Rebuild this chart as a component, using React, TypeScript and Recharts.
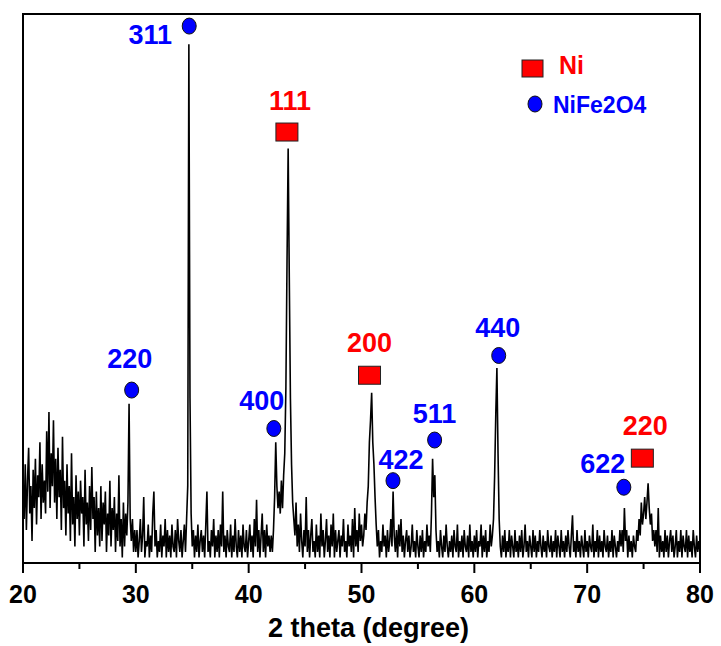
import React from 'react';
import { ComposedChart, Line, Scatter, XAxis, YAxis, ReferenceArea } from 'recharts';

// XRD scan, 2theta from 20 to 80 deg in 0.1 deg steps (arbitrary intensity units)
const ANGLE_START = 20;
const ANGLE_STEP = 0.1;
const intensities = [
  12, 8, 18, 6, 15, 21, 9, 14, 4, 17,
  10, 19, 7, 16, 12, 22, 8, 18, 11, 15,
  9, 24, 13, 27.5, 10, 20, 14, 26, 11, 19,
  8, 21, 12, 17, 6, 23, 10, 15, 5, 18,
  9, 14, 4, 20, 7, 12, 3, 16, 8, 13,
  5, 15, 9, 12, 3, 17, 7, 11, 4, 14,
  6, 17.5, 8, 12, 2, 13, 5, 10, 3, 14,
  4, 11, 7, 13, 2, 9, 5, 15, 3, 10,
  6, 12, 2, 9, 4, 16, 3, 8, 1, 11,
  3, 9, 5, 11, 29, 8, 4, 8, 2, 6,
  2, 6, 1, 4, 8, 2, 5, 12, 1, 4,
  3, 7, 1, 5, 2, 9, 13, 3, 6, 1,
  4, 2, 7, 1, 5, 3, 8, 1, 6, 2,
  5, 1, 7, 3, 2, 6, 1, 8, 4, 2,
  6, 1, 4, 7, 2, 8, 14, 94.5, 30, 9,
  3, 6, 1, 5, 2, 7, 1, 4, 6, 2,
  5, 1, 7, 13, 2, 4, 1, 6, 3, 8,
  1, 5, 2, 6, 1, 7, 3, 13, 2, 5,
  1, 6, 3, 2, 7, 1, 5, 2, 8, 3,
  1, 6, 2, 5, 1, 7, 3, 2, 6, 1,
  4, 7, 2, 5, 1, 8, 3, 11.5, 2, 6,
  1, 5, 9, 2, 6, 1, 7, 3, 5, 2,
  5, 2, 6, 12, 22, 14, 10, 13, 9, 15,
  10, 16, 20, 32, 55, 75.5, 52, 30, 18, 11,
  8, 5, 11, 3, 7, 2, 9, 4, 1, 6,
  3, 12, 2, 6, 1, 5, 8, 2, 4, 1,
  7, 2, 5, 1, 9, 3, 6, 1, 4, 8,
  2, 5, 1, 7, 3, 9, 1, 6, 2, 4,
  6, 1, 5, 3, 8, 2, 4, 1, 7, 3,
  5, 2, 8, 1, 10, 3, 6, 2, 9, 4,
  7, 3, 5, 9, 6, 11, 14, 22, 26, 31,
  22, 18, 12, 7, 3, 6, 1, 4, 2, 7,
  3, 5, 1, 6, 2, 4, 8, 3, 13, 5,
  2, 6, 1, 7, 3, 8, 2, 5, 1, 4,
  6, 2, 5, 1, 3, 7, 2, 4, 1, 6,
  3, 1, 5, 2, 6, 1, 4, 2, 7, 3,
  5, 2, 9, 19, 12, 16, 6, 2, 4, 1,
  6, 3, 1, 5, 2, 7, 3, 1, 4, 2,
  5, 1, 6, 3, 2, 7, 1, 4, 2, 5,
  1, 6, 3, 2, 5, 1, 7, 2, 4, 1,
  5, 2, 6, 1, 4, 3, 7, 1, 5, 2,
  6, 1, 4, 2, 7, 3, 5, 8, 16, 27,
  35.5, 20, 8, 3, 1, 5, 2, 6, 1, 4,
  2, 6, 1, 5, 3, 1, 6, 2, 4, 1,
  5, 2, 6, 1, 3, 7, 2, 4, 1, 5,
  3, 1, 6, 2, 5, 1, 4, 2, 6, 3,
  1, 5, 2, 4, 1, 6, 3, 2, 5, 1,
  4, 2, 6, 1, 5, 3, 1, 6, 2, 4,
  1, 5, 2, 6, 3, 1, 5, 8.7, 2, 4,
  1, 6, 2, 4, 1, 5, 3, 1, 6, 2,
  4, 1, 5, 3, 2, 7, 1, 4, 2, 6,
  1, 5, 2, 4, 1, 6, 3, 2, 5, 1,
  4, 2, 6, 1, 5, 3, 1, 4, 2, 6,
  3, 6, 2, 10, 4, 6, 1, 5, 2, 4,
  1, 5, 3, 2, 6, 4, 8, 5, 11, 7,
  9, 12, 8, 11, 14.5, 10, 7, 9, 4, 6,
  3, 6, 2, 10, 1, 5, 2, 4, 1, 6,
  2, 5, 1, 4, 6, 2, 5, 1, 3, 6,
  1, 4, 2, 6, 1, 5, 3, 2, 6, 1,
  5, 2, 4, 1, 6, 3, 1, 5, 2, 4,
  2,
];

// peak markers (angle, marker height) with Miller indices
const niPeaks = [
  { angle: 43.39, height: 78.5, hkl: '111' },
  { angle: 50.71, height: 34.2, hkl: '200' },
  { angle: 74.89, height: 19.1, hkl: '220' },
];

const ferritePeaks = [
  { angle: 29.63, height: 31.5, hkl: '220' },
  { angle: 34.73, height: 97.8, hkl: '311' },
  { angle: 42.23, height: 24.5, hkl: '400' },
  { angle: 52.79, height: 15.0, hkl: '422' },
  { angle: 56.48, height: 22.4, hkl: '511' },
  { angle: 62.16, height: 37.8, hkl: '440' },
  { angle: 73.25, height: 13.8, hkl: '622' },
];

const xTicks = [20, 25, 30, 35, 40, 45, 50, 55, 60, 65, 70, 75, 80];

const FONT = '"Liberation Sans", Arial, sans-serif';
const RED = '#ff0000';
const BLUE = '#0000ff';

// where each hkl label sits relative to its marker
const niLabelOffset: Record<string, [number, number]> = {
  '111': [3, -22],
  '200': [0, -23],
  '220': [3, -23],
};
const ferriteLabelOffset: Record<string, [number, number]> = {
  '220': [-2, -22],
  '311': [-39, 18],
  '400': [-12, -18],
  '422': [8, -12],
  '511': [0, -17],
  '440': [-1, -18],
  '622': [-21, -14],
};

const pattern = intensities.map((v, i) => ({
  angle: +(ANGLE_START + i * ANGLE_STEP).toFixed(1),
  intensity: v,
}));

const AngleTick = ({ x, y, payload }: any) => {
  const major = payload.value % 10 === 0;
  return (
    <g>
      <line x1={x} x2={x} y1={y} y2={y + (major ? 10 : 6)} stroke="#000" strokeWidth={2} />
      {major && (
        <text x={x} y={y + 40} textAnchor="middle" fontFamily={FONT} fontWeight="bold" fontSize={25} fill="#000">
          {payload.value}
        </text>
      )}
    </g>
  );
};

const AxisTitle = ({ viewBox }: any) => {
  if (!viewBox) return null;
  return (
    <text
      x={viewBox.x + viewBox.width / 2 + 7}
      y={viewBox.y + 74}
      textAnchor="middle"
      fontFamily={FONT}
      fontWeight="bold"
      fontSize={27}
      fill="#000"
    >
      2 theta (degree)
    </text>
  );
};

const NiMarker = ({ cx, cy, payload }: any) => {
  const [dx, dy] = niLabelOffset[payload.hkl] || [0, -22];
  return (
    <g>
      <rect x={cx - 11} y={cy - 9} width={22} height={18} fill={RED} stroke="#222" strokeWidth={1} />
      <text x={cx + dx} y={cy + dy} textAnchor="middle" fontFamily={FONT} fontWeight="bold" fontSize={27} fill={RED}>
        {payload.hkl}
      </text>
    </g>
  );
};

const FerriteMarker = ({ cx, cy, payload }: any) => {
  const [dx, dy] = ferriteLabelOffset[payload.hkl] || [0, -18];
  return (
    <g>
      <ellipse cx={cx} cy={cy} rx={7} ry={8} fill={BLUE} stroke="#111" strokeWidth={1} />
      <text x={cx + dx} y={cy + dy} textAnchor="middle" fontFamily={FONT} fontWeight="bold" fontSize={27} fill={BLUE}>
        {payload.hkl}
      </text>
    </g>
  );
};

const PhaseLegend = () => (
  <svg width={160} height={70} style={{ position: 'absolute', left: 515, top: 50 }}>
    <rect x={7} y={10} width={21} height={17} fill={RED} stroke="#222" strokeWidth={1} />
    <text x={44} y={24} fontFamily={FONT} fontWeight="bold" fontSize={25} fill={RED}>Ni</text>
    <ellipse cx={20} cy={54} rx={7} ry={8} fill={BLUE} stroke="#111" strokeWidth={1} />
    <text x={38} y={63} fontFamily={FONT} fontWeight="bold" fontSize={23} fill={BLUE}>NiFe2O4</text>
  </svg>
);

const App = () => {
  return (
    <div style={{ position: 'absolute', left: 0, top: 0, width: 721, height: 646, background: '#fff' }}>
      <ComposedChart
        width={721}
        height={646}
        data={pattern}
        margin={{ top: 14, right: 21, left: 23, bottom: 0 }}
      >
        <XAxis
          dataKey="angle"
          type="number"
          domain={[20, 80]}
          ticks={xTicks}
          interval={0}
          height={83}
          axisLine={false}
          tickLine={false}
          tickSize={0}
          tickMargin={0}
          tick={<AngleTick />}
          label={<AxisTitle />}
          allowDataOverflow
        />
        <YAxis hide type="number" domain={[0, 100]} allowDataOverflow />
        <ReferenceArea x1={20} x2={80} y1={0} y2={100} fill="none" stroke="#000" strokeWidth={2} />
        <Line
          dataKey="intensity"
          type="linear"
          stroke="#000"
          strokeWidth={1.6}
          strokeLinejoin="miter"
          dot={false}
          activeDot={false}
          isAnimationActive={false}
        />
        <Scatter data={ferritePeaks} dataKey="height" shape={<FerriteMarker />} isAnimationActive={false} />
        <Scatter data={niPeaks} dataKey="height" shape={<NiMarker />} isAnimationActive={false} />
      </ComposedChart>
      <PhaseLegend />
    </div>
  );
};

export default App;
